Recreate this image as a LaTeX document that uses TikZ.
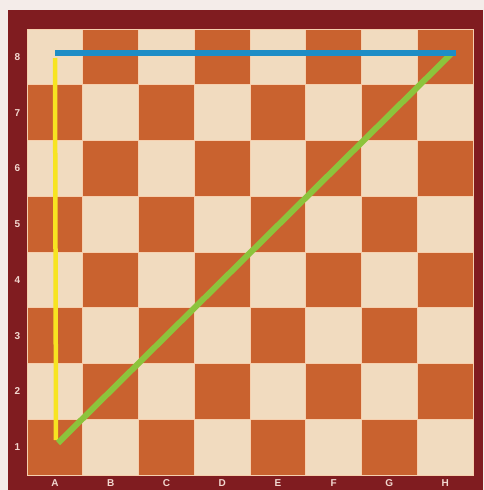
\documentclass[tikz,border=0pt]{standalone}
\usepackage{fontspec}
\setsansfont{Liberation Sans}
\usepackage{xcolor}
\usetikzlibrary{calc}
\definecolor{pagebg}{HTML}{F4ECE9}
\definecolor{frame}{HTML}{801C20}
\definecolor{lightsq}{HTML}{F1DBBF}
\definecolor{darksq}{HTML}{C9622F}
\definecolor{seam}{HTML}{F6CFAE}
\definecolor{labeltext}{HTML}{F2D8D0}
\definecolor{fileline}{HTML}{F7E421}
\definecolor{rankline}{HTML}{1E8DC6}
\definecolor{diagline}{HTML}{8CC43C}

\begin{document}
\begin{tikzpicture}[
  x=1pt, y=-1pt,
  square/.style={draw=seam, line width=0.8pt},
  coordlabel/.style={font=\sffamily\bfseries\fontsize{10}{12}\selectfont, text=labeltext, inner sep=0pt},
  stroke/.style={line width=#1, line cap=butt}
]
\useasboundingbox (0,0) rectangle (484,490);
\fill[pagebg] (0,0) rectangle (484,490);

% wooden frame
\fill[frame] (8,10) rectangle (483,490);

% the 64 squares
\foreach \c in {0,...,7}{
  \foreach \r in {1,...,8}{
    \pgfmathsetmacro{\sx}{27+\c*55.75}
    \pgfmathsetmacro{\sy}{29+(8-\r)*55.75}
    \pgfmathtruncatemacro{\odd}{mod(\c+\r,2)}
    \ifnum\odd=1
      \filldraw[square, fill=darksq] (\sx,\sy) rectangle ++(55.75,55.75);
    \else
      \filldraw[square, fill=lightsq] (\sx,\sy) rectangle ++(55.75,55.75);
    \fi
  }
}

% rank and file labels
\foreach \r in {1,...,8}
  \node[coordlabel] (rank\r) at (17.5,{29+(8.5-\r)*55.75}) {\r};
\foreach \f [count=\c from 0] in {A,B,C,D,E,F,G,H}
  \node[coordlabel] (file\f) at ({27+(\c+0.5)*55.75},483) {\f};

% end points
\coordinate (a1) at (56,440);
\coordinate (a1d) at (58,443);
\coordinate (a8) at (55,53);
\coordinate (a8y) at (55,58);
\coordinate (h8) at (456,53);
\coordinate (h8d) at (452,53);

\draw[fileline, stroke=4.5pt] (a8y) -- (a1);
\draw[diagline, stroke=6pt] (a1d) -- (h8d);
\draw[rankline, stroke=5.5pt] (a8) -- (h8);
\end{tikzpicture}
\end{document}
